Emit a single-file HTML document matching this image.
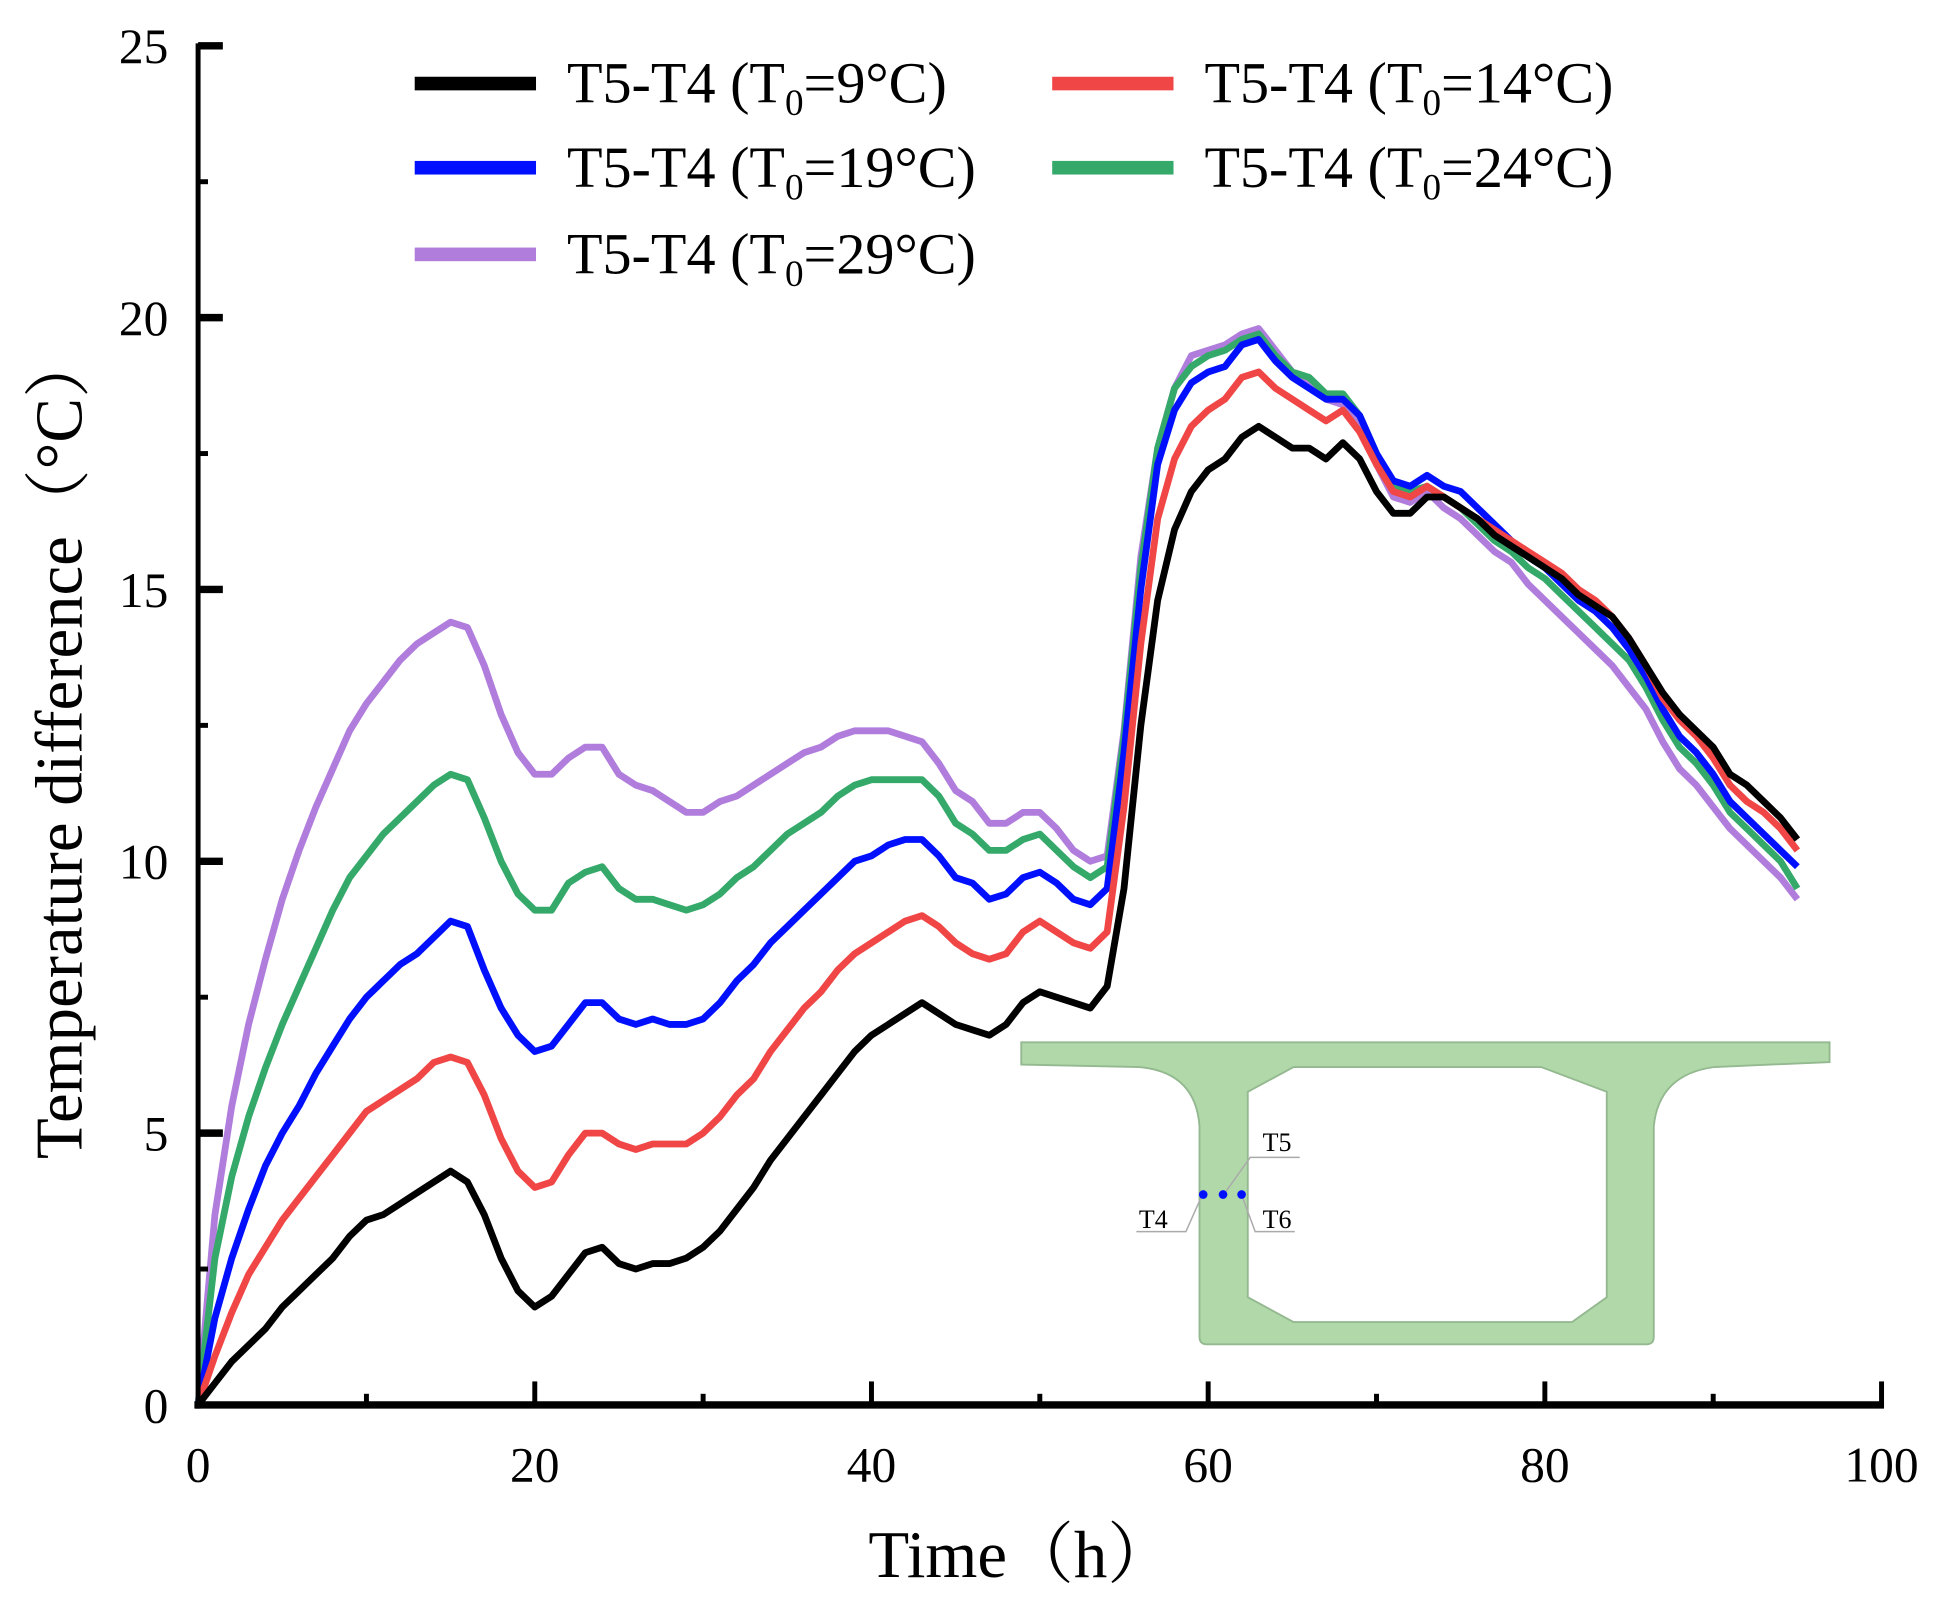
<!DOCTYPE html>
<html><head><meta charset="utf-8"><style>
html,body{margin:0;padding:0;background:#fff;}
svg{display:block;}
text{font-family:"Liberation Serif","Noto Serif CJK SC",serif;fill:#000;}
</style></head><body>
<svg id="chart" width="1941" height="1603" viewBox="0 0 1568 1295" xmlns="http://www.w3.org/2000/svg">
<g id="inset">
<path fill-rule="evenodd" fill="#b0d8a8" stroke="#94b890" stroke-width="1.5"
d="M825,842 L1478,842 L1478,858 L1385,862 Q1340,868 1336,910 L1336,1080 Q1336,1086 1330,1086 L975,1086 Q969,1086 969,1080 L969,910 Q966,866 920,862 L825,860 Z
M1008,882 L1045,862 L1245,862 L1298,882 L1298,1048 L1270,1068 L1045,1068 L1008,1048 Z"/>
<g stroke="#aaa" stroke-width="1.2" fill="none">
<polyline points="990,963 1010,935 1050,935"/>
<polyline points="970,968 958,995 918,995"/>
<polyline points="1004,968 1014,995 1046,995"/>
</g>
<circle cx="972" cy="965" r="3.5" fill="#0010ff"/>
<circle cx="988" cy="965" r="3.5" fill="#0010ff"/>
<circle cx="1003" cy="965" r="3.5" fill="#0010ff"/>
<text x="1020" y="930" font-size="21">T5</text>
<text x="920" y="992" font-size="21">T4</text>
<text x="1020" y="992" font-size="21">T6</text>
</g>
<g id="series"></g>
<g id="axes"></g>
<g id="legend"></g>
<text x="825" y="1274" font-size="54" text-anchor="middle">Time（h）</text>
<text transform="translate(66,602) rotate(-90)" font-size="54" text-anchor="middle">Temperature difference（°C）</text>
</svg>
<script>
const times = Array.from({length:96},(_, i)=>i);
const s9 = [0,0.4,0.8,1.1,1.4,1.8,2.1,2.4,2.7,3.1,3.4,3.5,3.7,3.9,4.1,4.3,4.1,3.5,2.7,2.1,1.8,2.0,2.4,2.8,2.9,2.6,2.5,2.6,2.6,2.7,2.9,3.2,3.6,4.0,4.5,4.9,5.3,5.7,6.1,6.5,6.8,7.0,7.2,7.4,7.2,7.0,6.9,6.8,7.0,7.4,7.6,7.5,7.4,7.3,7.7,9.5,12.5,14.8,16.1,16.8,17.2,17.4,17.8,18.0,17.8,17.6,17.6,17.4,17.7,17.4,16.8,16.4,16.4,16.7,16.7,16.5,16.3,16.0,15.8,15.6,15.4,15.2,14.9,14.7,14.5,14.1,13.6,13.1,12.7,12.4,12.1,11.6,11.4,11.1,10.8,10.4];
const s14 = [0,0.9,1.7,2.4,2.9,3.4,3.8,4.2,4.6,5.0,5.4,5.6,5.8,6.0,6.3,6.4,6.3,5.7,4.9,4.3,4.0,4.1,4.6,5.0,5.0,4.8,4.7,4.8,4.8,4.8,5.0,5.3,5.7,6.0,6.5,6.9,7.3,7.6,8.0,8.3,8.5,8.7,8.9,9.0,8.8,8.5,8.3,8.2,8.3,8.7,8.9,8.7,8.5,8.4,8.7,11.0,14.0,16.3,17.4,18.0,18.3,18.5,18.9,19.0,18.7,18.5,18.3,18.1,18.3,17.9,17.3,16.8,16.7,16.9,16.7,16.5,16.3,16.1,15.9,15.7,15.5,15.3,15.0,14.8,14.5,14.1,13.6,13.0,12.6,12.3,11.9,11.4,11.1,10.9,10.6,10.2];
const s19 = [0,1.6,2.7,3.6,4.4,5.0,5.5,6.1,6.6,7.1,7.5,7.8,8.1,8.3,8.6,8.9,8.8,8.0,7.3,6.8,6.5,6.6,7.0,7.4,7.4,7.1,7.0,7.1,7.0,7.0,7.1,7.4,7.8,8.1,8.5,8.8,9.1,9.4,9.7,10.0,10.1,10.3,10.4,10.4,10.1,9.7,9.6,9.3,9.4,9.7,9.8,9.6,9.3,9.2,9.5,12.0,15.0,17.3,18.3,18.8,19.0,19.1,19.5,19.6,19.2,18.9,18.7,18.5,18.5,18.2,17.5,17.0,16.9,17.1,16.9,16.8,16.5,16.2,15.9,15.6,15.4,15.1,14.8,14.6,14.3,13.9,13.4,12.8,12.3,12.0,11.6,11.1,10.8,10.5,10.2,9.9];
const s24 = [0,2.7,4.2,5.3,6.2,7.0,7.7,8.4,9.1,9.7,10.1,10.5,10.8,11.1,11.4,11.6,11.5,10.8,10.0,9.4,9.1,9.1,9.6,9.8,9.9,9.5,9.3,9.3,9.2,9.1,9.2,9.4,9.7,9.9,10.2,10.5,10.7,10.9,11.2,11.4,11.5,11.5,11.5,11.5,11.2,10.7,10.5,10.2,10.2,10.4,10.5,10.2,9.9,9.7,9.9,12.3,15.4,17.6,18.7,19.1,19.3,19.4,19.6,19.7,19.3,19.0,18.9,18.6,18.6,18.2,17.5,16.9,16.8,16.9,16.7,16.5,16.2,15.9,15.7,15.4,15.2,14.9,14.6,14.3,14.0,13.7,13.2,12.6,12.1,11.8,11.4,10.9,10.6,10.3,10.0,9.5];
const s29 = [0,3.5,5.5,7.0,8.2,9.3,10.2,11.0,11.7,12.4,12.9,13.3,13.7,14.0,14.2,14.4,14.3,13.6,12.7,12.0,11.6,11.6,11.9,12.1,12.1,11.6,11.4,11.3,11.1,10.9,10.9,11.1,11.2,11.4,11.6,11.8,12.0,12.1,12.3,12.4,12.4,12.4,12.3,12.2,11.8,11.3,11.1,10.7,10.7,10.9,10.9,10.6,10.2,10.0,10.1,12.4,15.6,17.6,18.7,19.3,19.4,19.5,19.7,19.8,19.4,19.0,18.8,18.5,18.4,18.0,17.3,16.7,16.6,16.8,16.5,16.3,16.0,15.7,15.5,15.1,14.8,14.5,14.2,13.9,13.6,13.2,12.8,12.2,11.7,11.4,11.0,10.6,10.3,10.0,9.7,9.3];
const xTicks = [0,20,40,60,80,100];
const yTicks = [0,5,10,15,20,25];
const legendLabels = ["9","14","19","24","29"];

const NS="http://www.w3.org/2000/svg";
const X0=160,X1=1520,Y0=1135,Y1=37;
const sx=v=>X0+(v/100)*(X1-X0);
const sy=v=>Y0-(v/25)*(Y0-Y1);
function mk(tag,attrs,parent){const e=document.createElementNS(NS,tag);for(const k in attrs)e.setAttribute(k,attrs[k]);parent.appendChild(e);return e;}

const series=[[s29,"#b07ddd","29"],[s24,"#35a96a","24"],[s19,"#0010ff","19"],[s14,"#f04646","14"],[s9,"#000000","9"]];
const gS=document.getElementById('series');
series.forEach(([d,c,n])=>{
  const p=mk('polyline',{points:d.map((v,i)=>sx(times[i]).toFixed(1)+','+sy(v).toFixed(1)).join(' '),fill:'none',stroke:c,'stroke-width':5.5,'stroke-linejoin':'round'},gS);
  
  
});

const gA=document.getElementById('axes');
const xa=mk('line',{x1:X0-3,y1:Y0,x2:X1+2,y2:Y0,stroke:'#000','stroke-width':6},gA);


const ya=mk('line',{x1:X0,y1:Y0+3,x2:X0,y2:Y1-2,stroke:'#000','stroke-width':4},gA);


for(let v=10;v<=100;v+=10){
  const major=v%20===0;
  const t=mk('line',{x1:sx(v),y1:Y0,x2:sx(v),y2:Y0-(major?19:9),stroke:'#000','stroke-width':4},gA);
  
  
}
for(let v=2.5;v<=25;v+=2.5){
  const major=v%5===0;
  const t=mk('line',{x1:X0,y1:sy(v),x2:X0+(major?20:8),y2:sy(v),stroke:'#000','stroke-width':major?6:4},gA);
  
  
}
xTicks.forEach(v=>{
  const t=mk('text',{x:sx(v),y:1197,'font-size':40,'text-anchor':'middle'},gA);
  t.textContent=v;
  
  
});
yTicks.forEach(v=>{
  const t=mk('text',{x:136,y:sy(v)+14,'font-size':40,'text-anchor':'end'},gA);
  t.textContent=v;
  
  
});

const gL=document.getElementById('legend');
const legPos=[[335,67,"#000000"],[850,67,"#f04646"],[335,135,"#0010ff"],[850,135,"#35a96a"],[335,205,"#b07ddd"]];
legendLabels.forEach((lab,i)=>{
  const [x,y,c]=legPos[i];
  const g=mk('g',{},gL);
  
  
  mk('rect',{x:x,y:y-5,width:98,height:11,fill:c},g);
  const t=mk('text',{x:x+123,y:y+16,'font-size':47},g);
  t.innerHTML='T5-T4 (T<tspan font-size="30" dy="10">0</tspan><tspan dy="-10">='+lab+'°C)</tspan>';
});
</script>
</body></html>
